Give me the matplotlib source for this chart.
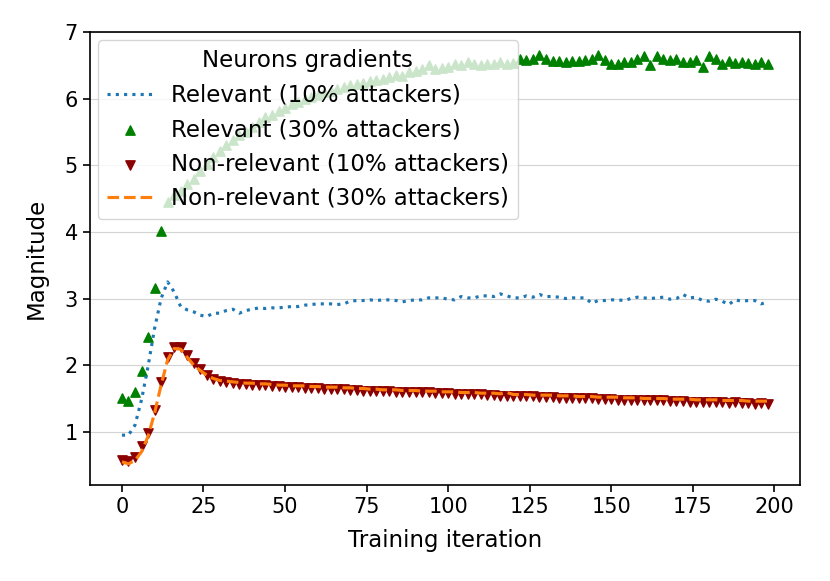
import numpy as np
import matplotlib
matplotlib.use("Agg")
import matplotlib.pyplot as plt

# training iterations (every 2nd step logged)
iterations = np.arange(0, 200, 2)

relevant_10 = [
    0.95, 0.95, 1.10, 1.48, 1.98, 2.55, 3.00, 3.25, 3.10, 2.88,
    2.83, 2.80, 2.75, 2.73, 2.78, 2.78, 2.82, 2.84, 2.78, 2.82,
    2.84, 2.86, 2.85, 2.86, 2.86, 2.87, 2.88, 2.88, 2.90, 2.91,
    2.92, 2.92, 2.92, 2.91, 2.92, 2.96, 2.97, 2.97, 2.98, 2.97,
    2.98, 2.98, 2.97, 2.95, 2.97, 2.98, 2.98, 3.01, 3.01, 3.01,
    2.99, 2.98, 3.03, 3.01, 3.01, 3.04, 3.04, 3.03, 3.07, 3.04,
    3.01, 3.01, 3.04, 3.02, 3.06, 3.03, 3.03, 3.02, 3.00, 3.01,
    3.01, 3.01, 2.93, 2.97, 2.97, 2.98, 2.98, 2.97, 3.00, 3.02,
    3.01, 3.00, 3.01, 3.02, 2.99, 3.00, 3.06, 3.01, 3.02, 2.97,
    2.96, 2.99, 2.96, 2.91, 2.98, 2.96, 2.97, 2.97, 2.92, 2.95,
]

relevant_30 = [
    1.50, 1.46, 1.60, 1.92, 2.43, 3.16, 4.01, 4.45, 4.55, 4.62,
    4.72, 4.80, 4.92, 5.02, 5.12, 5.22, 5.30, 5.38, 5.45, 5.50,
    5.58, 5.65, 5.72, 5.76, 5.82, 5.86, 5.92, 5.95, 6.00, 6.02,
    6.06, 6.10, 6.12, 6.14, 6.18, 6.20, 6.22, 6.24, 6.26, 6.28,
    6.30, 6.32, 6.36, 6.34, 6.40, 6.42, 6.44, 6.50, 6.44, 6.46,
    6.48, 6.52, 6.50, 6.55, 6.52, 6.50, 6.52, 6.52, 6.55, 6.52,
    6.53, 6.60, 6.58, 6.60, 6.66, 6.60, 6.57, 6.56, 6.55, 6.56,
    6.56, 6.58, 6.60, 6.65, 6.58, 6.52, 6.52, 6.55, 6.55, 6.60,
    6.64, 6.50, 6.64, 6.60, 6.58, 6.60, 6.55, 6.55, 6.58, 6.47,
    6.64, 6.60, 6.52, 6.57, 6.53, 6.55, 6.53, 6.52, 6.55, 6.52,
]

nonrelevant_10 = [
    0.58, 0.56, 0.62, 0.78, 0.98, 1.32, 1.75, 2.12, 2.27, 2.27,
    2.15, 2.03, 1.94, 1.86, 1.80, 1.77, 1.75, 1.74, 1.72, 1.72,
    1.71, 1.70, 1.70, 1.69, 1.69, 1.68, 1.67, 1.67, 1.66, 1.66,
    1.66, 1.65, 1.64, 1.65, 1.64, 1.63, 1.63, 1.62, 1.62, 1.62,
    1.61, 1.61, 1.60, 1.60, 1.60, 1.59, 1.59, 1.59, 1.58, 1.58,
    1.58, 1.57, 1.57, 1.56, 1.56, 1.56, 1.55, 1.55, 1.54, 1.54,
    1.54, 1.53, 1.53, 1.53, 1.52, 1.52, 1.52, 1.51, 1.51, 1.51,
    1.50, 1.50, 1.50, 1.49, 1.49, 1.49, 1.48, 1.48, 1.48, 1.48,
    1.47, 1.47, 1.47, 1.47, 1.46, 1.46, 1.46, 1.45, 1.45, 1.45,
    1.44, 1.45, 1.44, 1.43, 1.44, 1.43, 1.43, 1.42, 1.43, 1.42,
]

nonrelevant_30 = [
    0.55, 0.52, 0.57, 0.70, 0.93, 1.28, 1.70, 2.08, 2.25, 2.24,
    2.12, 2.00, 1.92, 1.85, 1.80, 1.77, 1.76, 1.75, 1.74, 1.73,
    1.73, 1.72, 1.72, 1.71, 1.70, 1.70, 1.69, 1.69, 1.69, 1.68,
    1.68, 1.67, 1.67, 1.67, 1.66, 1.66, 1.65, 1.65, 1.64, 1.64,
    1.63, 1.63, 1.63, 1.62, 1.62, 1.62, 1.61, 1.61, 1.61, 1.60,
    1.60, 1.60, 1.59, 1.59, 1.59, 1.58, 1.58, 1.58, 1.57, 1.59,
    1.56, 1.56, 1.56, 1.55, 1.55, 1.55, 1.55, 1.54, 1.54, 1.54,
    1.53, 1.53, 1.53, 1.52, 1.52, 1.52, 1.52, 1.51, 1.51, 1.51,
    1.50, 1.50, 1.50, 1.50, 1.49, 1.49, 1.49, 1.49, 1.48, 1.48,
    1.48, 1.48, 1.47, 1.47, 1.47, 1.47, 1.46, 1.46, 1.46, 1.46,
]

fig, ax = plt.subplots(figsize=(8.3, 5.81), dpi=100)
fig.subplots_adjust(left=0.108, right=0.964, top=0.945, bottom=0.165)

ax.plot(iterations, relevant_10, ':', color='tab:blue', lw=2.25, label="Relevant (10% attackers)")
ax.scatter(iterations, relevant_30, marker='^', color='green', s=45, label="Relevant (30% attackers)")
ax.scatter(iterations, nonrelevant_10, marker='v', color='darkred', s=45, label="Non-relevant (10% attackers)")
ax.plot(iterations, nonrelevant_30, '--', color='tab:orange', lw=2.25, label="Non-relevant (30% attackers)")

ax.set_ylim(0.2, 7.0)
ax.yaxis.grid(True, color='lightgray', lw=0.8)
ax.set_axisbelow(True)

ax.tick_params(labelsize=15, width=1.2, length=5)
for s in ax.spines.values():
    s.set_linewidth(1.2)
ax.set_xlabel("Training iteration", fontsize=16.5, labelpad=9)
ax.set_ylabel("Magnitude", fontsize=16.5, labelpad=12)

ax.legend(title="Neurons gradients", loc='upper left', fontsize=16.5, title_fontsize=16.5,
          labelspacing=0.5, borderaxespad=0.35)

plt.savefig("out.png")
